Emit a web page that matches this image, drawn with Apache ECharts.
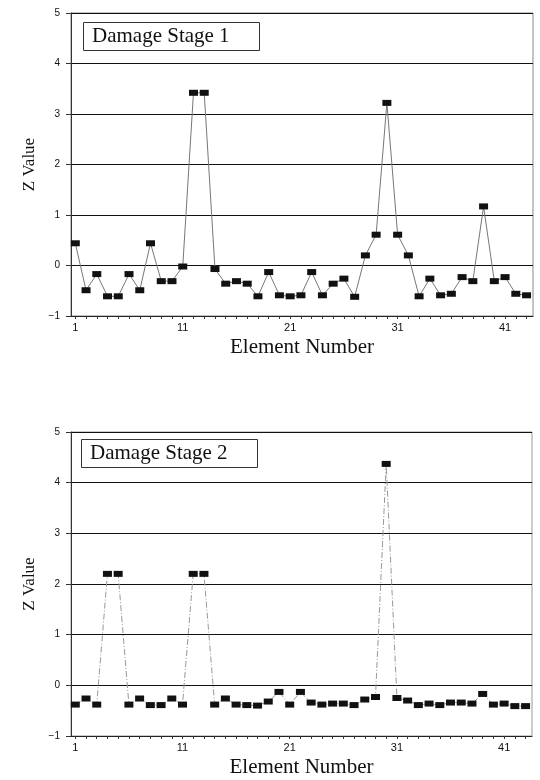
<!DOCTYPE html>
<html>
<head>
<meta charset="UTF-8">
<title>Damage Stage Z Values</title>
<style>
  html, body { margin: 0; padding: 0; background: #fff; }
  #chart { width: 540px; height: 780px; }
</style>
</head>
<body>
<div id="chart"></div>
<script src="https://cdn.jsdelivr.net/npm/echarts@6/dist/echarts.min.js"></script>
<script>
// element numbers 1..43
var elements = [1,2,3,4,5,6,7,8,9,10,11,12,13,14,15,16,17,18,19,20,21,22,23,24,25,26,27,28,29,30,31,32,33,34,35,36,37,38,39,40,41,42,43];
var xTickLabels = [1, 11, 21, 31, 41];

var stage1 = [0.44,-0.49,-0.17,-0.61,-0.61,-0.17,-0.49,0.44,-0.31,-0.31,
              -0.02,3.42,3.42,-0.07,-0.36,-0.31,-0.36,-0.61,-0.13,-0.59,
              -0.61,-0.59,-0.13,-0.59,-0.36,-0.26,-0.62,0.2,0.61,3.22,
              0.61,0.2,-0.61,-0.26,-0.59,-0.56,-0.23,-0.31,1.17,-0.31,
              -0.23,-0.56,-0.59];

var stage2 = [-0.38,-0.26,-0.38,2.2,2.2,-0.38,-0.26,-0.39,-0.39,-0.26,
              -0.38,2.2,2.2,-0.38,-0.26,-0.38,-0.39,-0.4,-0.32,-0.13,
              -0.38,-0.13,-0.34,-0.38,-0.36,-0.36,-0.39,-0.28,-0.23,4.37,
              -0.25,-0.3,-0.39,-0.36,-0.39,-0.34,-0.34,-0.36,-0.17,-0.38,
              -0.36,-0.41,-0.41];

var titles = ['Damage Stage 1', 'Damage Stage 2'];

function pairs(vals) {
  return vals.map(function (v, i) { return [elements[i], v]; });
}

var serif = 'Liberation Serif';
var sans = 'Liberation Sans';

function makeX(idx) {
  return {
    type: 'value',
    gridIndex: idx,
    min: 0.6,
    max: 43.6,
    name: 'Element Number',
    nameLocation: 'middle',
    nameGap: 21,
    nameTextStyle: { fontFamily: serif, fontSize: 21, color: '#111' },
    axisLine: { show: true, onZero: false, lineStyle: { color: '#222', width: 1 } },
    axisTick: { show: true, customValues: elements, length: 3, lineStyle: { color: '#333' } },
    axisLabel: { customValues: xTickLabels, fontFamily: sans, fontSize: 11, color: '#111', margin: 6 },
    splitLine: { show: false }
  };
}

function makeY(idx) {
  return {
    type: 'value',
    gridIndex: idx,
    min: -1,
    max: 5,
    interval: 1,
    name: 'Z Value',
    nameLocation: 'middle',
    nameRotate: 90,
    nameGap: 33,
    nameTextStyle: { fontFamily: serif, fontSize: 17, color: '#111' },
    axisLine: { show: true, lineStyle: { color: '#333', width: 1 } },
    axisTick: { show: true, length: 5, lineStyle: { color: '#333' } },
    axisLabel: { fontFamily: sans, fontSize: 10, color: '#111', margin: 11,
      formatter: function (v) { return v < 0 ? '\u2212' + (-v) : String(v); } },
    splitLine: { show: true, lineStyle: { color: '#111', width: 1 } }
  };
}

function makeTitle(i, left, top) {
  return {
    text: titles[i],
    left: left,
    top: top,
    padding: [4, 30, 4, 9],
    borderColor: '#333',
    borderWidth: 1,
    textStyle: { fontFamily: serif, fontSize: 21, fontWeight: 'normal', color: '#111' }
  };
}

var chart = echarts.init(document.getElementById('chart'), null, { renderer: 'canvas' });
chart.setOption({
  backgroundColor: '#fff',
  animation: false,
  title: [makeTitle(0, 83, 22), makeTitle(1, 81, 439)],
  grid: [
    { left: 71, right: 7, top: 13, height: 303, show: true, borderColor: '#888', borderWidth: 1 },
    { left: 71, right: 8, top: 432, height: 304, show: true, borderColor: '#999', borderWidth: 1 }
  ],
  xAxis: [makeX(0), makeX(1)],
  yAxis: [makeY(0), makeY(1)],
  series: [
    {
      type: 'line',
      xAxisIndex: 0,
      yAxisIndex: 0,
      data: pairs(stage1),
      symbol: 'rect',
      symbolSize: [9, 6],
      itemStyle: { color: '#111' },
      lineStyle: { color: '#777', width: 1 }
    },
    {
      type: 'line',
      xAxisIndex: 1,
      yAxisIndex: 1,
      data: pairs(stage2),
      symbol: 'rect',
      symbolSize: [9, 6],
      itemStyle: { color: '#111' },
      lineStyle: { color: '#999', width: 1, type: [6, 2, 1, 2] }
    }
  ]
});
</script>
</body>
</html>
